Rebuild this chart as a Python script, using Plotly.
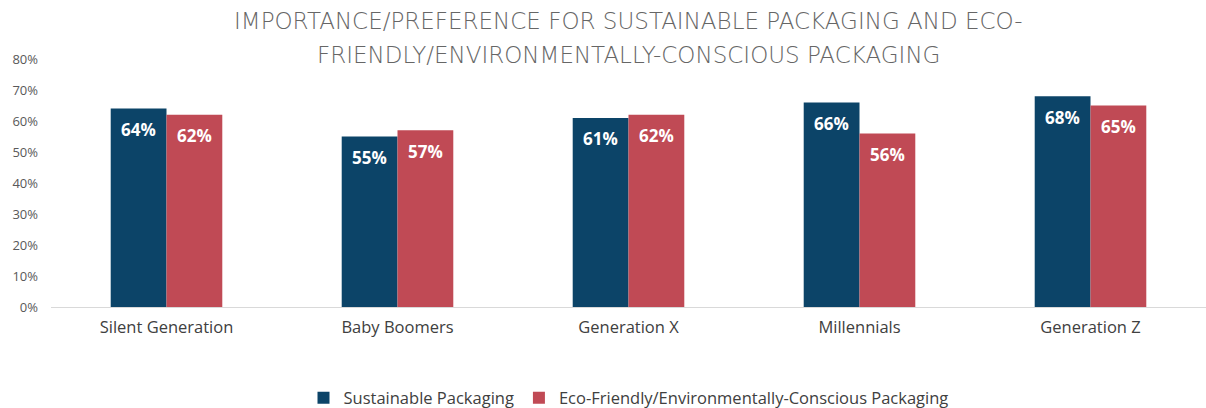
import plotly.graph_objects as go

categories = ["Silent Generation", "Baby Boomers", "Generation X", "Millennials", "Generation Z"]
sustainable = [0.64, 0.55, 0.61, 0.66, 0.68]
eco_friendly = [0.62, 0.57, 0.62, 0.56, 0.65]
series_names = ["Sustainable Packaging", "Eco-Friendly/Environmentally-Conscious Packaging"]
tick_vals = [0, 0.1, 0.2, 0.3, 0.4, 0.5, 0.6, 0.7, 0.8]
title_lines = ["IMPORTANCE/PREFERENCE FOR SUSTAINABLE PACKAGING AND ECO-",
               "FRIENDLY/ENVIRONMENTALLY-CONSCIOUS PACKAGING"]

FONT = "Open Sans, sans-serif"
TITLE_FONT = "DejaVu Sans, sans-serif"
GRAY = "#595959"
COLORS = ["#0C4468", "#C04A55"]

fig = go.Figure()
for name, vals, color in [(series_names[0], sustainable, COLORS[0]),
                          (series_names[1], eco_friendly, COLORS[1])]:
    fig.add_trace(go.Bar(
        x=categories, y=vals, name=name, marker_color=color,
        marker_line_width=0,
    ))

# value labels, placed from the data values
for i, vals in enumerate([sustainable, eco_friendly]):
    shift = -28 if i == 0 else 28
    for c, v in zip(categories, vals):
        fig.add_annotation(x=c, y=v, xref="x", yref="y", xshift=shift, yshift=-21,
                           text=f"{v*100:.0f}%", showarrow=False,
                           xanchor="center", yanchor="middle",
                           font=dict(color="white", size=17, family=FONT, weight="bold"))

# title lines
for txt, yy in zip(title_lines, [1.153, 1.018]):
    fig.add_annotation(x=0.5, y=yy, xref="paper", yref="paper", text=txt,
                       showarrow=False, xanchor="center", yanchor="middle",
                       font=dict(size=23, color="#666666", family=TITLE_FONT, weight=200))

fig.update_layout(
    width=1206, height=408,
    barmode="group", bargap=0.517, bargroupgap=0,
    plot_bgcolor="white", paper_bgcolor="white",
    margin=dict(l=51, r=0, t=59, b=101, autoexpand=False),
    font=dict(family=FONT, color=GRAY),
    xaxis=dict(showline=True, linecolor="#D9D9D9", linewidth=1,
               tickfont=dict(size=16.5, color="#404040"), ticks="",
               ticklabelstandoff=5),
    yaxis=dict(range=[0, 0.8], tickvals=tick_vals, tickformat=".0%",
               showgrid=False, zeroline=False, showline=False,
               tickfont=dict(size=13, color=GRAY), ticklabelstandoff=12),
    legend=dict(orientation="h", x=0.5, xanchor="center", y=-0.296, yanchor="top",
                font=dict(size=16.5, color="#404040"), traceorder="normal",
                itemwidth=30),
)

fig.write_html("out.html", config={"displayModeBar": False},
               post_script="document.body.style.margin='0';")
